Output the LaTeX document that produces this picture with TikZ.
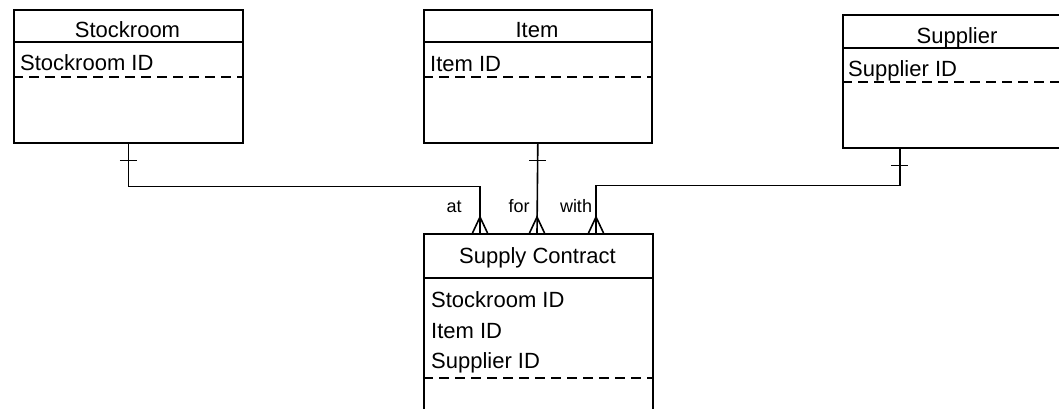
\documentclass[tikz,border=0pt]{standalone}
\usepackage{fontspec}
\setmainfont{Liberation Sans}
\usetikzlibrary{calc}
\begin{document}
\begin{tikzpicture}[x=1pt,y=-1pt,
  ln/.style={line width=1.6pt,black},
  box/.style={ln,draw,fill=white,rectangle,inner sep=0pt,anchor=north west},
  dsh/.style={ln,dash pattern=on 10pt off 6pt},
  ttl/.style={anchor=base,inner sep=0pt,font=\fontsize{22}{26}\selectfont},
  attr/.style={anchor=base west,inner sep=0pt,font=\fontsize{22}{26}\selectfont},
  lbl/.style={anchor=base,inner sep=0pt,font=\fontsize{18}{22}\selectfont}]
\clip (0,0) rectangle (1059,409);
\fill[white] (0,0) rectangle (1059,409);

% Stockroom
\node[box,minimum width=229pt,minimum height=133pt] (stock) at (13,9) {};
\draw[ln] (13,42) -- (242,42);
\draw[dsh] (13,77) -- (242,77);
\node[ttl] (stockT) at (127.5,38) {Stockroom};
\node[attr] (stockA) at (20,71) {Stockroom ID};

% Item
\node[box,minimum width=228pt,minimum height=133pt] (item) at (423,9) {};
\draw[ln] (423,42) -- (651,42);
\draw[dsh] (423,77) -- (651,77);
\node[ttl] (itemT) at (537,38) {Item};
\node[attr] (itemA) at (430,72) {Item ID};

% Supplier
\node[box,minimum width=230pt,minimum height=133pt] (sup) at (842,14) {};
\draw[ln] (842,48) -- (1072,48);
\draw[dsh] (842,82) -- (1072,82);
\node[ttl] (supT) at (957,44) {Supplier};
\node[attr] (supA) at (848,77) {Supplier ID};

% Supply Contract
\node[box,minimum width=229pt,minimum height=220pt] (sc) at (423,233) {};
\draw[ln] (423,278) -- (652,278);
\draw[dsh] (423,378) -- (652,378);
\node[ttl] (scT) at (537.5,263) {Supply Contract};
\node[attr] (scA1) at (431,307) {Stockroom ID};
\node[attr] (scA2) at (431,338) {Item ID};
\node[attr] (scA3) at (431,368) {Supplier ID};

% connection points
\coordinate (pA) at (480,233);
\coordinate (pB) at (537,233);
\coordinate (pC) at (596,233);
\coordinate (supS) at ($(sup.south west)!0.25!(sup.south east)$);

% connectors
\draw[ln] (stock.south) -- ++(0,43) -| (pA);
\draw[ln] (item.south) -- (pB);
\draw[ln] (supS) -- ++(0,37) -| (pC);

% one ticks
\draw[ln] ($(stock.south)+(-8.5,17)$) -- ($(stock.south)+(8.5,17)$);
\draw[ln] ($(item.south)+(-8.5,17)$) -- ($(item.south)+(8.5,17)$);
\draw[ln] ($(supS)+(-8.5,17)$) -- ($(supS)+(8.5,17)$);

% crow's feet
\foreach \p in {pA,pB,pC}{
  \draw[ln] ($(\p)+(-7.5,0)$) -- ($(\p)+(0,-16)$) -- ($(\p)+(7.5,0)$);
}

% labels
\node[lbl] (lA) at (454,212) {at};
\node[lbl] (lB) at (519,212) {for};
\node[lbl] (lC) at (576,212) {with};
\end{tikzpicture}
\end{document}
